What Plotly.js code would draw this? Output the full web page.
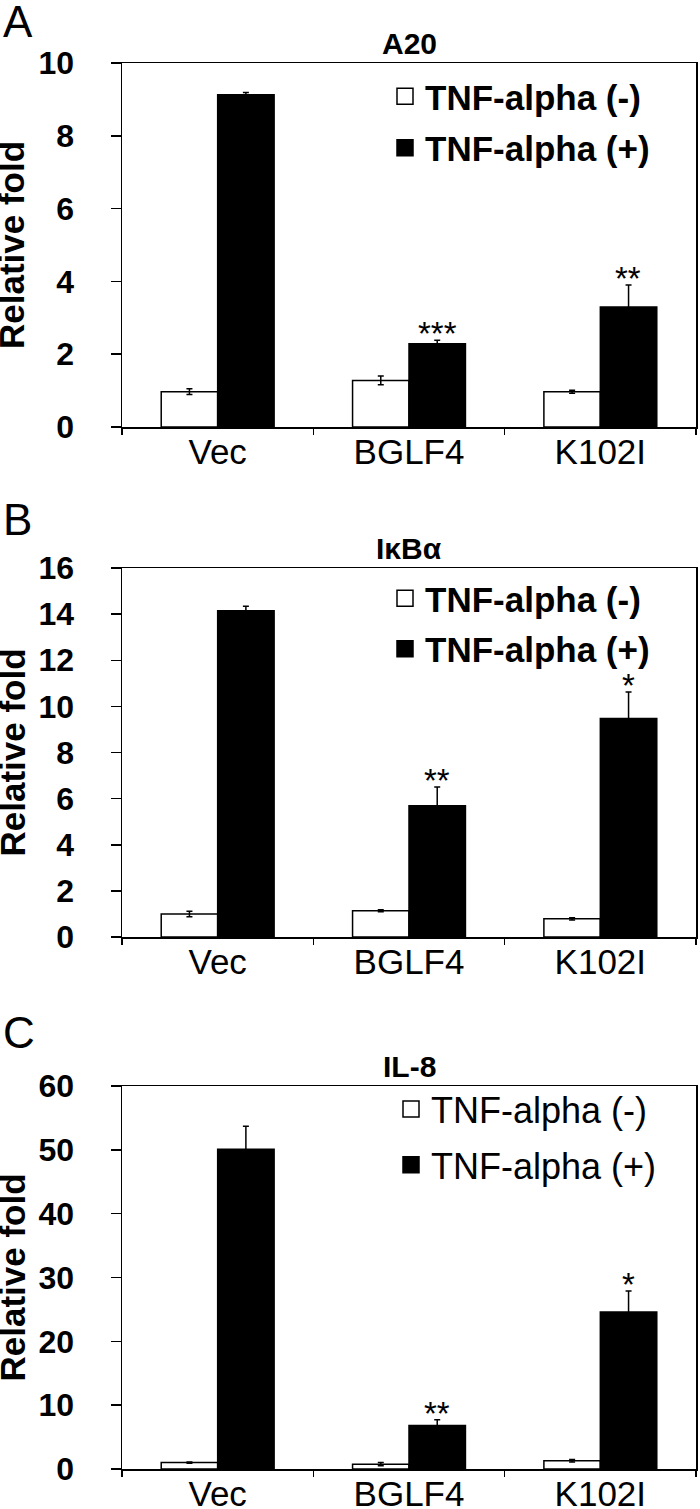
<!DOCTYPE html>
<html>
<head>
<meta charset="utf-8">
<script src="https://cdn.plot.ly/plotly-3.0.1.min.js"></script>
<style>
  html, body { margin: 0; padding: 0; background: #fff; }
  #chart { width: 700px; height: 1509px; }
</style>
</head>
<body>
<div id="chart"></div>
<script>
// Datos
const categories = ["Vec", "BGLF4", "K102I"];
const series_names = ["TNF-alpha (-)", "TNF-alpha (+)"];

const a20_neg = [0.97, 1.28, 0.97];
const a20_neg_err = [0.08, 0.12, 0.04];
const a20_pos = [9.13, 2.29, 3.30];
const a20_pos_err = [0.06, 0.09, 0.60];
const a20_stars = ["", "***", "**"];

const ikba_neg = [1.00, 1.14, 0.79];
const ikba_neg_err = [0.12, 0.04, 0.05];
const ikba_pos = [14.15, 5.69, 9.47];
const ikba_pos_err = [0.19, 0.81, 1.15];
const ikba_stars = ["", "**", "*"];

const il8_neg = [1.0, 0.75, 1.3];
const il8_neg_err = [0.1, 0.25, 0.2];
const il8_pos = [50.1, 6.83, 24.6];
const il8_pos_err = [3.6, 0.9, 3.3];
const il8_stars = ["", "**", "*"];

const panels = [
  { letter: "A", title: "A20", neg: a20_neg, negErr: a20_neg_err, pos: a20_pos, posErr: a20_pos_err, stars: a20_stars, range: [0, 10], dtick: 2, boldLegend: true },
  { letter: "B", title: "IκBα", neg: ikba_neg, negErr: ikba_neg_err, pos: ikba_pos, posErr: ikba_pos_err, stars: ikba_stars, range: [0, 16], dtick: 2, boldLegend: true },
  { letter: "C", title: "IL-8", neg: il8_neg, negErr: il8_neg_err, pos: il8_pos, posErr: il8_pos_err, stars: il8_stars, range: [0, 60], dtick: 10, boldLegend: false }
];

// Geometria (pixeles del lienzo 700x1509)
const W = 700, H = 1509;
const plotLeft = 122, plotRight = 696;
const plotBoxes = [[63, 427], [568, 937], [1086, 1469]]; // [top, bottom]
const letterY = [22, 520, 1032];
const legendTop = [67, 569, 1079];
const legendLeft = [385, 385, 391];
const legendGap = [3, 2, 6];
const legendSize = [35, 35, 36];

const FONT = "Liberation Sans, Arial, sans-serif";

function py(pix) { return 1 - pix / H; }

function init() {
  const data = [];
  const layout = {
    width: W, height: H,
    margin: { l: 0, r: 0, t: 0, b: 0 },
    paper_bgcolor: "#fff", plot_bgcolor: "#fff",
    barmode: "group", bargap: 0.41, bargroupgap: 0,
    font: { family: FONT, color: "#000", size: 30 },
    annotations: [],
    showlegend: true
  };

  panels.forEach(function (p, i) {
    const n = i === 0 ? "" : String(i + 1);
    const xa = "x" + n, ya = "y" + n;
    const legendId = "legend" + n;

    // barras
    data.push({
      type: "bar", x: categories, y: p.neg, xaxis: xa, yaxis: ya,
      marker: { color: "#fff", line: { color: "#000", width: 1.5 } },
      error_y: { type: "data", array: p.negErr, visible: true, color: "#000", thickness: 1.5, width: 3 },
      showlegend: false, hoverinfo: "skip"
    });
    data.push({
      type: "bar", x: categories, y: p.pos, xaxis: xa, yaxis: ya,
      marker: { color: "#000", line: { color: "#000", width: 1.5 } },
      error_y: { type: "data", array: p.posErr, visible: true, color: "#000", thickness: 1.5, width: 3 },
      showlegend: false, hoverinfo: "skip"
    });

    // entradas de leyenda (cuadros grandes)
    [["#fff", series_names[0]], ["#000", series_names[1]]].forEach(function (s, k) {
      data.push({
        type: "scatter", mode: "markers", x: [null], y: [null], xaxis: xa, yaxis: ya,
        name: s[1], legend: legendId, legendgroup: "g" + i + k,
        marker: { symbol: "square", size: 16, color: s[0], line: { color: "#000", width: 1.5 } }
      });
    });

    const top = plotBoxes[i][0], bot = plotBoxes[i][1];
    layout["xaxis" + n] = {
      anchor: ya, domain: [plotLeft / W, plotRight / W],
      type: "category", showline: true, linecolor: "#000", linewidth: 1.5, mirror: true,
      ticks: "outside", tickson: "boundaries", ticklen: 6, tickwidth: 1.5, tickcolor: "#000",
      ticklabelstandoff: -7,
      tickfont: { family: FONT, size: 35, color: "#000" },
      showgrid: false, zeroline: false, fixedrange: true
    };
    layout["yaxis" + n] = {
      anchor: xa, domain: [py(bot), py(top)],
      range: p.range, dtick: p.dtick, tick0: 0,
      showline: true, linecolor: "#000", linewidth: 1.5, mirror: true,
      ticks: "outside", ticklen: 10, tickwidth: 1.5, tickcolor: "#000",
      ticklabelstandoff: 30,
      tickfont: { family: FONT, size: 32, color: "#000", weight: "bold" },
      showgrid: false, zeroline: false, fixedrange: true
    };
    layout[legendId] = {
      x: legendLeft[i] / W, xanchor: "left", y: py(legendTop[i]), yanchor: "top",
      bgcolor: "rgba(0,0,0,0)", borderwidth: 0,
      traceorder: "grouped", tracegroupgap: legendGap[i],
      font: { family: FONT, size: legendSize[i], color: "#000", weight: p.boldLegend ? "bold" : "normal" }
    };

    // titulo del panel
    layout.annotations.push({
      text: p.title, xref: xa + " domain", yref: ya + " domain", x: 0.5, y: 1,
      yanchor: "bottom", yshift: 1, showarrow: false,
      font: { family: FONT, size: 30, color: "#000", weight: "bold" }
    });
    // letra del panel
    layout.annotations.push({
      text: p.letter, xref: "paper", yref: "paper", x: 0, y: py(letterY[i]),
      xanchor: "left", yanchor: "middle", xshift: 1, showarrow: false,
      font: { family: FONT, size: 44, color: "#000" }
    });
    // titulo eje y
    layout.annotations.push({
      text: "Relative fold", xref: "paper", yref: ya + " domain", x: 12 / W, y: 0.5,
      xanchor: "center", yanchor: "middle", textangle: -90, showarrow: false,
      font: { family: FONT, size: 35, color: "#000", weight: "bold" }
    });
    // asteriscos sobre las barras negras
    p.stars.forEach(function (s, j) {
      if (!s) return;
      layout.annotations.push({
        text: s, xref: xa, yref: ya, x: categories[j], y: p.pos[j] + p.posErr[j],
        xshift: 28, yanchor: "bottom", yshift: -14, showarrow: false,
        font: { family: FONT, size: 33, color: "#000" }
      });
    });
  });

  Plotly.newPlot("chart", data, layout, { staticPlot: true, displayModeBar: false });
}

init();
</script>
</body>
</html>
